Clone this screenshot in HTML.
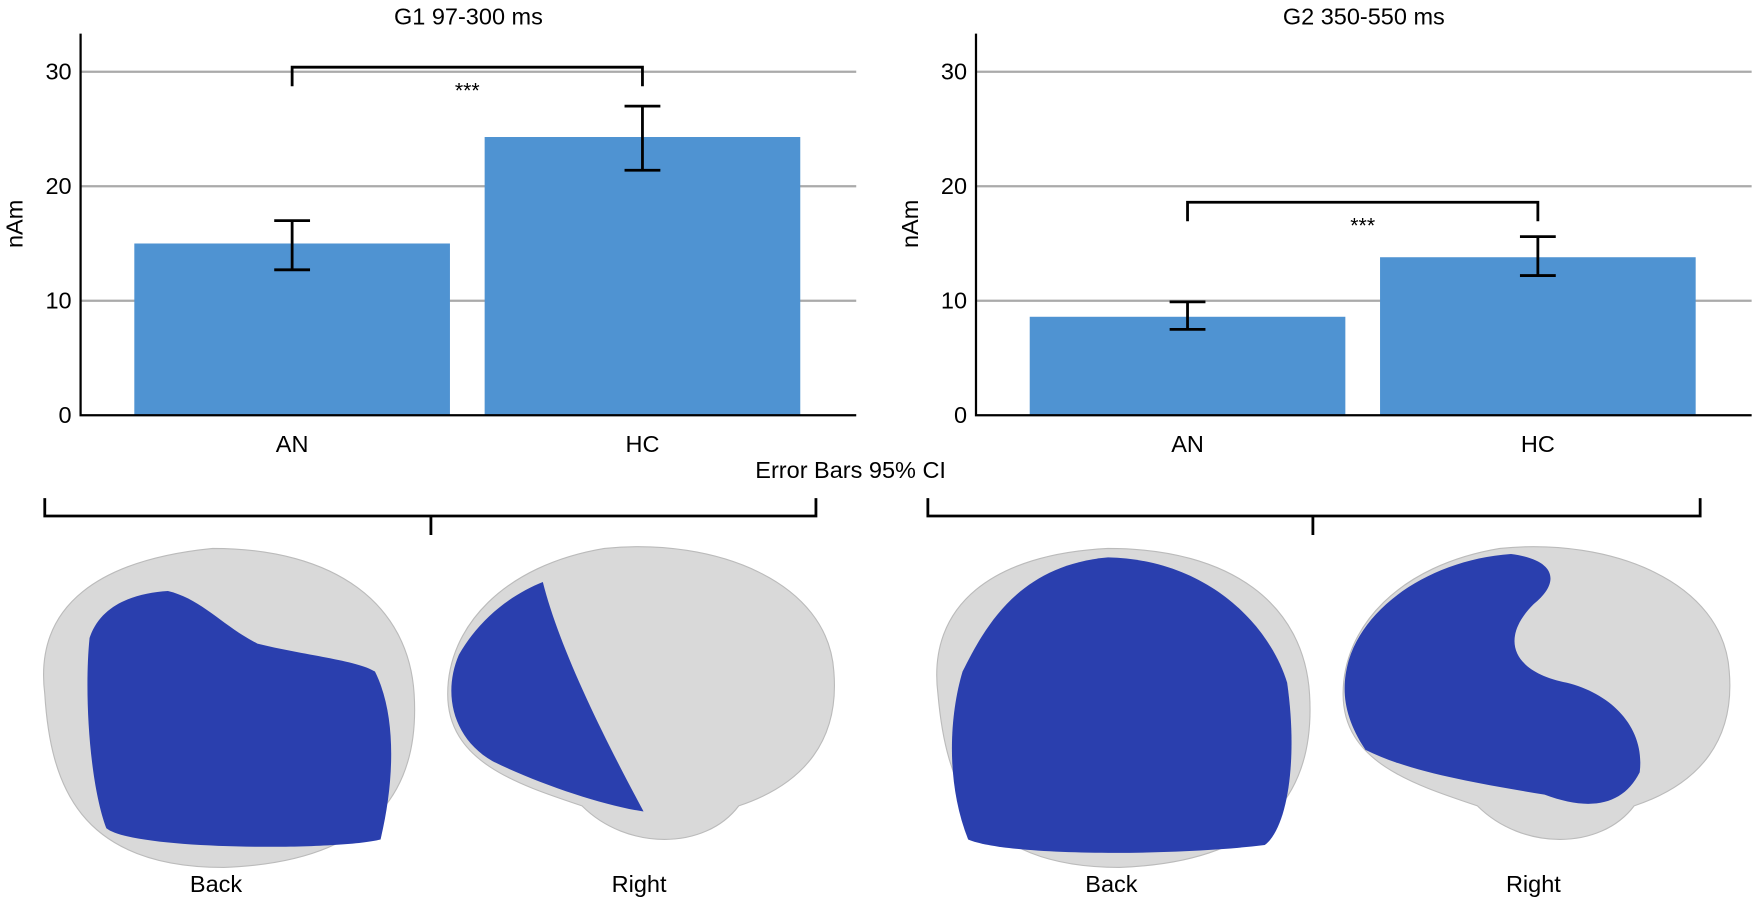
<!DOCTYPE html>
<html><head><meta charset="utf-8"><style>
html,body{margin:0;padding:0;background:#fff;}
svg{display:block;font-family:"Liberation Sans",sans-serif;}
</style></head><body>
<svg id="fig" width="1755" height="901" viewBox="0 0 1568 805" xmlns="http://www.w3.org/2000/svg">
<g id="charts"></g>
<g id="brains">
  <g>
    <path d="M40,620 C30,540 90,500 190,490 C300,490 365,540 370,620 C375,700 340,770 200,775 C70,775 45,700 40,620Z" fill="#d9d9d9" stroke="#bbb"/>
    <path d="M80,570 C90,540 120,530 150,528 C180,535 200,560 230,575 C270,585 320,590 335,600 C355,640 352,700 340,750 C300,760 120,760 95,740 C80,700 75,620 80,570Z" fill="#2a3fae"/>
  </g>
  <g>
    <path d="M838,620 C828,540 888,495 990,490 C1100,490 1165,540 1170,620 C1175,700 1140,770 1000,775 C870,775 845,700 838,620Z" fill="#d9d9d9" stroke="#bbb"/>
    <path d="M860,600 C880,560 910,505 990,498 C1080,500 1135,560 1150,610 C1160,680 1150,740 1130,755 C1050,765 900,765 865,750 C845,700 848,640 860,600Z" fill="#2a3fae"/>
  </g>
  <g>
    <path d="M400,620 C400,560 450,505 540,490 C640,480 740,520 745,600 C750,660 720,700 660,720 C630,760 560,760 520,720 C460,700 400,680 400,620Z" fill="#d9d9d9" stroke="#bbb"/>
    <path d="M410,585 C430,550 460,530 485,520 C500,580 540,660 575,725 C540,720 480,700 440,680 C405,660 395,620 410,585Z" fill="#2a3fae"/>
  </g>
  <g>
    <path d="M1200,620 C1200,560 1250,505 1340,490 C1440,480 1540,520 1545,600 C1550,660 1520,700 1460,720 C1430,760 1360,760 1320,720 C1260,700 1200,680 1200,620Z" fill="#d9d9d9" stroke="#bbb"/>
    <path d="M1205,590 C1220,540 1280,500 1350,495 C1390,500 1395,520 1370,540 C1340,570 1350,600 1400,610 C1440,620 1470,650 1465,690 C1450,720 1420,725 1380,710 C1320,700 1260,690 1220,670 C1200,640 1198,615 1205,590Z" fill="#2a3fae"/>
  </g>
</g>
<g font-size="21" fill="#000">
  <text x="193" y="797" text-anchor="middle">Back</text>
  <text x="571" y="797" text-anchor="middle">Right</text>
  <text x="993" y="797" text-anchor="middle">Back</text>
  <text x="1370" y="797" text-anchor="middle">Right</text>
  <text x="760" y="427" text-anchor="middle">Error Bars 95% CI</text>
</g>
<g stroke="#000" stroke-width="2.5" fill="none">
  <path d="M40,445 V461 H729 V445 M385,461 V478"/>
  <path d="M829,445 V461 H1519 V445 M1173,461 V478"/>
</g>
</svg>
<script>
const ns="http://www.w3.org/2000/svg";
const categories=["AN","HC"];
const titles=["G1 97-300 ms","G2 350-550 ms"];
const g1Values=[15.0,24.3];
const g1Low=[12.7,21.4];
const g1High=[17.0,27.0];
const g2Values=[8.6,13.8];
const g2Low=[7.5,12.2];
const g2High=[9.9,15.6];
const yTicks=[0,10,20,30];
const sigLabels=["***","***"];
const sigY=[30.4,18.6];
const panels=[{x0:72,x1:765,v:g1Values,lo:g1Low,hi:g1High,name:"g1"},{x0:872,x1:1565,v:g2Values,lo:g2Low,hi:g2High,name:"g2"}];
const y0=371,yScale=10.23;
function yPos(v){return y0-v*yScale;}
function mk(tag,at,parent){const e=document.createElementNS(ns,tag);for(const k in at)e.setAttribute(k,at[k]);parent.appendChild(e);return e;}
const root=document.getElementById('charts');
panels.forEach((p,pi)=>{
  const g=mk('g',{},root);
  
  
  const bw=282, step=313;
  function xPos(i){return p.x0+48+i*step;}
  yTicks.forEach(t=>{
    if(t>0){const l=mk('line',{x1:p.x0,x2:p.x1,y1:yPos(t),y2:yPos(t),stroke:'#aaa','stroke-width':2},g);
    
    }
    const tx=mk('text',{x:p.x0-8,y:yPos(t)+7,'text-anchor':'end','font-size':21},g);tx.textContent=t;
    
    
  });
  p.v.forEach((v,i)=>{
    const x=xPos(i);
    const r=mk('rect',{x:x,y:yPos(v),width:bw,height:v*yScale,fill:'#4f93d2'},g);
    
    
    const cx=x+bw/2;
    const e=mk('path',{d:`M${cx-16},${yPos(p.hi[i])}H${cx+16}M${cx},${yPos(p.hi[i])}V${yPos(p.lo[i])}M${cx-16},${yPos(p.lo[i])}H${cx+16}`,stroke:'#000','stroke-width':2.5,fill:'none'},g);
    
    
    const lt=mk('text',{x:cx,y:404,'text-anchor':'middle','font-size':21},g);lt.textContent=categories[i];
    
    
  });
  const ax=mk('path',{d:`M${p.x0},30V${y0}H${p.x1}`,stroke:'#000','stroke-width':2,fill:'none'},g);
  
  
  const c0=xPos(0)+bw/2,c1=xPos(1)+bw/2,sy=yPos(sigY[pi]);
  const b=mk('path',{d:`M${c0},${sy+17}V${sy}H${c1}V${sy+17}`,stroke:'#000','stroke-width':2.5,fill:'none'},g);
  
  
  const st=mk('text',{x:(c0+c1)/2,y:sy+27,'text-anchor':'middle','font-size':19},g);st.textContent=sigLabels[pi];
  
  
  const tt=mk('text',{x:(p.x0+p.x1)/2,y:22,'text-anchor':'middle','font-size':21},g);tt.textContent=titles[pi];
  
  
  const yl=mk('text',{x:0,y:0,'text-anchor':'middle','font-size':21,transform:`translate(${p.x0-52},200) rotate(-90)`},g);yl.textContent='nAm';
  
  
});
</script>
</body></html>
